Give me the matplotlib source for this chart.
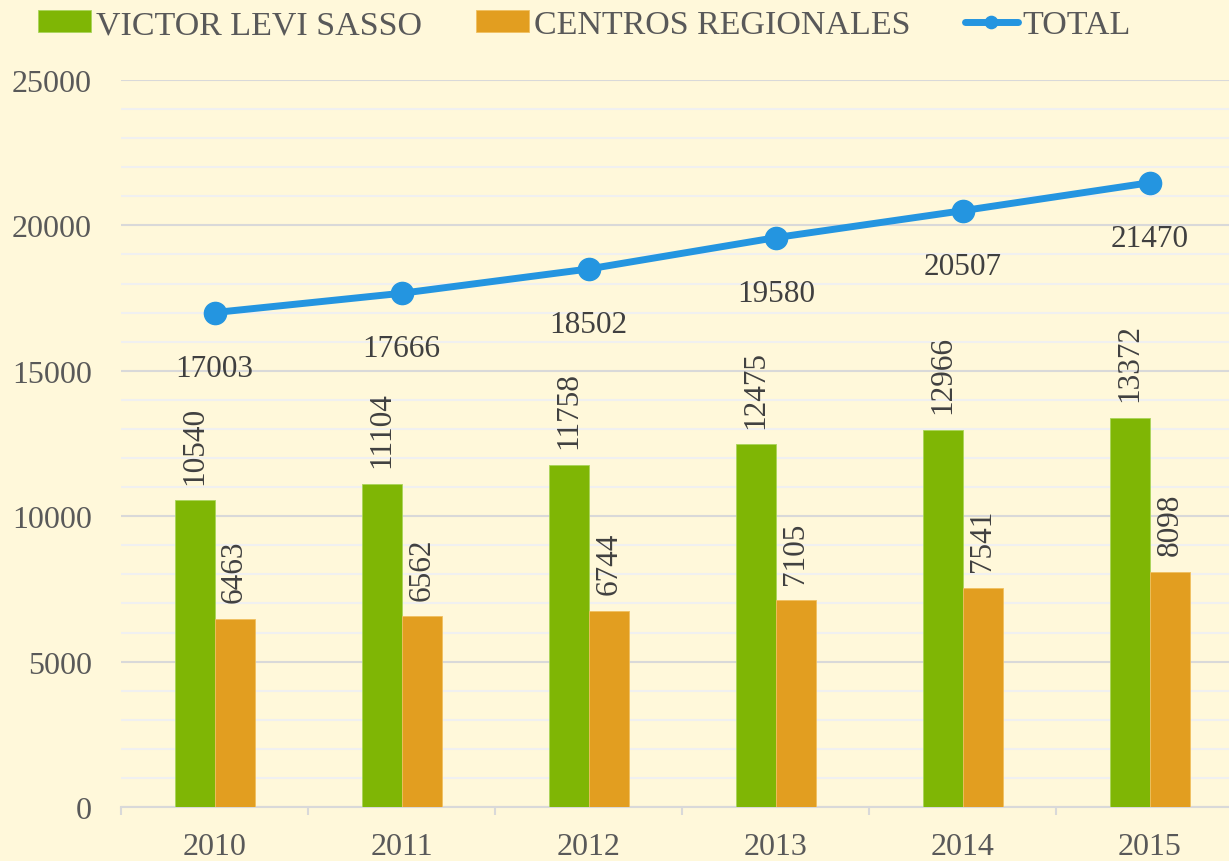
import matplotlib.pyplot as plt
import numpy as np
from matplotlib.ticker import MultipleLocator, FixedLocator

years = ['2010', '2011', '2012', '2013', '2014', '2015']
victor = [10540, 11104, 11758, 12475, 12966, 13372]
centros = [6463, 6562, 6744, 7105, 7541, 8098]
total = [17003, 17666, 18502, 19580, 20507, 21470]

bg = '#FFF8DA'
green = '#7FB605'
orange = '#E29E20'
blue = '#2495E0'
txt = '#595959'
lbl = '#404040'

plt.rcParams['font.family'] = ['Liberation Serif', 'DejaVu Serif']

fig = plt.figure(figsize=(12.29, 8.62), dpi=100, facecolor=bg)
ax = fig.add_axes([121/1229, 1 - 808/862, 1 - 121/1229, (808 - 81)/862])
ax.set_facecolor(bg)

x = np.arange(len(years))
w = 0.214
b1 = ax.bar(x - w/2, victor, w, color=green, edgecolor='#A9D45A', linewidth=0.6, label='VICTOR LEVI SASSO', zorder=3)
b2 = ax.bar(x + w/2, centros, w, color=orange, edgecolor='#F0C060', linewidth=0.6, label='CENTROS REGIONALES', zorder=3)
ln, = ax.plot(x, total, color=blue, lw=5, marker='o', markersize=16, label='TOTAL', zorder=4,
              solid_capstyle='round')

# data labels
for xi, v in zip(x, victor):
    ax.annotate(str(v), (xi - w/2, v), xytext=(0, 12), textcoords='offset points',
                rotation=90, ha='center', va='bottom', fontsize=22.5, color=lbl)
for xi, v in zip(x, centros):
    ax.annotate(str(v), (xi + w/2, v), xytext=(0, 12), textcoords='offset points',
                rotation=90, ha='center', va='bottom', fontsize=22.5, color=lbl)
for xi, v in zip(x, total):
    ax.annotate(str(v), (xi, v), xytext=(0, -40), textcoords='offset points',
                ha='center', va='center', fontsize=22.5, color=lbl)

ax.set_ylim(0, 25000)
ax.set_xlim(-0.5, (1229 - 214) / 187.2)
ax.yaxis.set_major_locator(MultipleLocator(5000))
ax.yaxis.set_minor_locator(MultipleLocator(1000))
ax.grid(axis='y', which='major', color='#D9D9D9', lw=1.5, zorder=0)
ax.grid(axis='y', which='minor', color='#F0F0F0', lw=1.5, zorder=0)

ax.set_xticks(x)
ax.set_xticklabels(years)
ax.xaxis.set_minor_locator(FixedLocator(np.arange(-0.5, 6, 1)))
ax.tick_params(axis='x', which='major', length=0, pad=18, labelsize=23, labelcolor=txt)
ax.tick_params(axis='x', which='minor', length=6, width=1.5, color='#D9D9D9')
ax.tick_params(axis='y', which='both', length=0, pad=21, labelsize=23, labelcolor=txt)

for s in ['top', 'right', 'left']:
    ax.spines[s].set_visible(False)
ax.spines['bottom'].set_color('#D9D9D9')
ax.spines['bottom'].set_linewidth(1.5)

fig.legend(handles=[b1, b2, ln], loc='center', bbox_to_anchor=(0.4756, 1 - 26/862), ncol=3,
           frameon=False, fontsize=24.5, labelcolor=txt, handlelength=1.55, handleheight=0.6,
           handletextpad=0.15, columnspacing=1.6, markerscale=0.55)

fig.savefig('out.png', dpi=100, facecolor=bg)
